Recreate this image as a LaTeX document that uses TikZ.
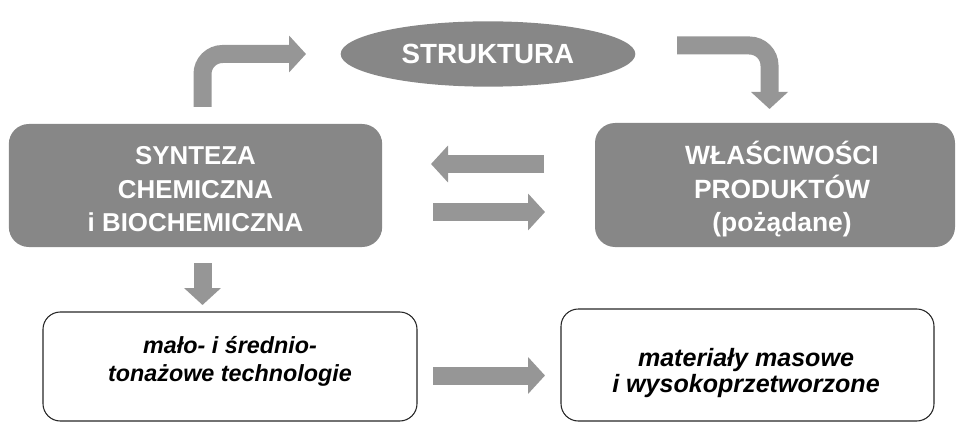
\documentclass[tikz,border=0pt]{standalone}
\usepackage{fontspec}
\setmainfont{Liberation Sans}
\usetikzlibrary{shapes,arrows.meta,positioning}
\definecolor{boxgray}{HTML}{878787}
\definecolor{arrowgray}{HTML}{969696}

\begin{document}
\begin{tikzpicture}[
    x=0.75pt, y=-0.75pt,
    main/.style={rectangle, rounded corners=15pt, fill=boxgray, inner sep=0pt},
    result/.style={rectangle, rounded corners=13pt, draw=black!85, line width=0.8pt, inner sep=0pt},
    maintext/.style={align=center, inner sep=0pt, text=white},
    resulttext/.style={align=center, inner sep=0pt},
    bigarrow/.style={draw=arrowgray, line width=13.5pt, -{Triangle[length=12.75pt,width=27pt]}}
]
\useasboundingbox (0,0) rectangle (956,424);

% Top
\node[ellipse, fill=boxgray, text=white, minimum width=221pt, minimum height=49pt, inner sep=0pt,
    font=\fontsize{20.8}{24}\selectfont\bfseries] (struktura) at (488,54) {STRUKTURA};

% Middle row
\node[main, minimum width=280pt, minimum height=92.25pt] (synteza) at (195.5,185.5) {};
\node[maintext, font=\fontsize{19.4}{25.1}\selectfont\bfseries] (synteza text) at (195.5,189.5)
    {SYNTEZA\\CHEMICZNA\\i BIOCHEMICZNA};
\node[main, minimum width=270pt, minimum height=93pt] (wlasciwosci) at (775,185) {};
\node[maintext, font=\fontsize{19.8}{25.1}\selectfont\bfseries] (wlasciwosci text) at (782,189.5)
    {WŁAŚCIWOŚCI\\PRODUKTÓW\\(pożądane)};

% Bottom row
\node[result, minimum width=280.5pt, minimum height=81.75pt] (technologie) at (230,366.5) {};
\node[resulttext, font=\fontsize{17.5}{21}\selectfont\bfseries\itshape] (technologie text) at (230,361)
    {mało- i średnio-\\tonażowe technologie};
\node[result, minimum width=279.75pt, minimum height=84pt] (materialy) at (747.5,365) {};
\node[resulttext, font=\fontsize{18.8}{19.5}\selectfont\bfseries\itshape] (materialy text) at (746,373.5)
    {materiały masowe\\i wysokoprzetworzone};

% Arrow ends
\coordinate (s1) at (202.5,107);
\coordinate (e1) at (306,54);
\coordinate (s2) at (677,45.5);
\coordinate (e2) at (769.5,109);
\coordinate (s3) at (544,164);
\coordinate (e3) at (431,164);
\coordinate (s4) at (433,212);
\coordinate (e4) at (545,212);
\coordinate (s5) at (202.5,263);
\coordinate (e5) at (202.5,305);
\coordinate (s6) at (433,375.5);
\coordinate (e6) at (545,375.5);

\draw[bigarrow, rounded corners=15pt] (s1) |- (e1);
\draw[bigarrow, rounded corners=15pt] (s2) -| (e2);
\draw[bigarrow] (s3) -- (e3);
\draw[bigarrow] (s4) -- (e4);
\draw[bigarrow] (s5) -- (e5);
\draw[bigarrow] (s6) -- (e6);

\end{tikzpicture}
\end{document}
